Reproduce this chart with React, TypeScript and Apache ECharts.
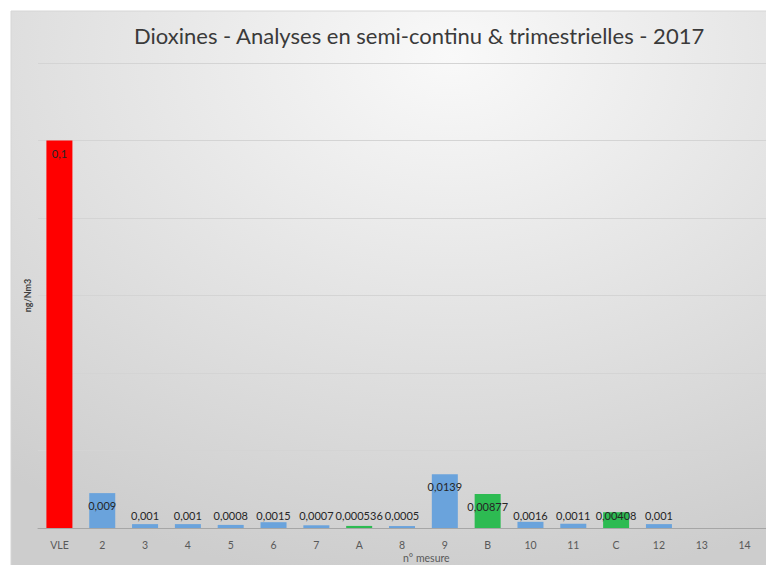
import React, { useEffect, useRef } from "react";
import * as echarts from "echarts";

const categories = ["VLE", "2", "3", "4", "5", "6", "7", "A", "8", "9", "B", "10", "11", "C", "12", "13", "14"];
const values: (number | null)[] = [0.1, 0.009, 0.001, 0.001, 0.0008, 0.0015, 0.0007, 0.000536, 0.0005, 0.0139, 0.00877, 0.0016, 0.0011, 0.00408, 0.001, null, null];
const kinds = ["vle", "semi", "semi", "semi", "semi", "semi", "semi", "trim", "semi", "semi", "trim", "semi", "semi", "trim", "semi", "semi", "semi"];
const titleText = "Dioxines - Analyses en semi-continu & trimestrielles - 2017";
const yName = "ng/Nm3";
const xName = "n° mesure";

const colors: Record<string, string> = { vle: "#FF0000", semi: "#6AA3DC", trim: "#2DBB52" };
const FONT = "Lato, 'Open Sans', sans-serif";

export default function App() {
  const ref = useRef<HTMLDivElement>(null);
  useEffect(() => {
    if (!ref.current) return;
    const chart = echarts.init(ref.current, null, { renderer: "svg" });
    const data = values.map((v, i) => {
      if (v === null) return { value: null };
      const big = v >= 0.0068;
      return {
        value: v,
        itemStyle: { color: colors[kinds[i]] },
        label: {
          show: true,
          position: big ? "insideTop" : "insideBottom",
          distance: 7,
        },
      };
    });
    chart.setOption({
      animation: false,
      backgroundColor: "#ffffff",
      textStyle: { fontFamily: FONT },
      graphic: [
        {
          type: "rect",
          z: -10,
          shape: { x: 11, y: 11, width: 760, height: 560 },
          style: {
            fill: new echarts.graphic.RadialGradient(0.58, 0.08, 0.95, [
              { offset: 0, color: "#f9f9f9" },
              { offset: 1, color: "#cdcdcd" },
            ]),
            stroke: "#d6d6d6",
            lineWidth: 1,
          },
        },
        {
          type: "text",
          left: 403,
          top: 552,
          style: { text: xName, fontSize: 10.5, fill: "#595959", fontFamily: FONT },
        },
      ],
      title: {
        text: titleText,
        left: 129,
        top: 19,
        textStyle: { fontSize: 22, fontWeight: "normal", color: "#3a3a3a", fontFamily: FONT },
      },
      grid: { left: 38, top: 63, width: 731, height: 465, containLabel: false },
      xAxis: {
        type: "category",
        data: categories,
        axisLine: { lineStyle: { color: "#a6a6a6", width: 1 } },
        axisTick: { show: false },
        axisLabel: { color: "#595959", fontSize: 10.5, margin: 11, fontFamily: FONT },
      },
      yAxis: {
        type: "value",
        min: 0,
        max: 0.12,
        interval: 0.02,
        name: yName,
        nameLocation: "middle",
        nameGap: 6,
        nameRotate: 90,
        nameTextStyle: { fontSize: 9, fontWeight: "bold", color: "#404040", fontFamily: FONT },
        axisLabel: { show: false },
        axisLine: { show: false },
        axisTick: { show: false },
        splitLine: { lineStyle: { color: "#d4d4d4", width: 1 } },
      },
      series: [
        {
          type: "bar",
          data,
          barWidth: 26,
          label: {
            show: true,
            fontSize: 11,
            color: "#262626",
            fontFamily: FONT,
            formatter: (p: any) => String(p.value).replace(".", ","),
          },
        },
      ],
    });
    return () => chart.dispose();
  }, []);
  return <div ref={ref} style={{ width: 766, height: 565, position: "absolute", left: 0, top: 0 }} />;
}
